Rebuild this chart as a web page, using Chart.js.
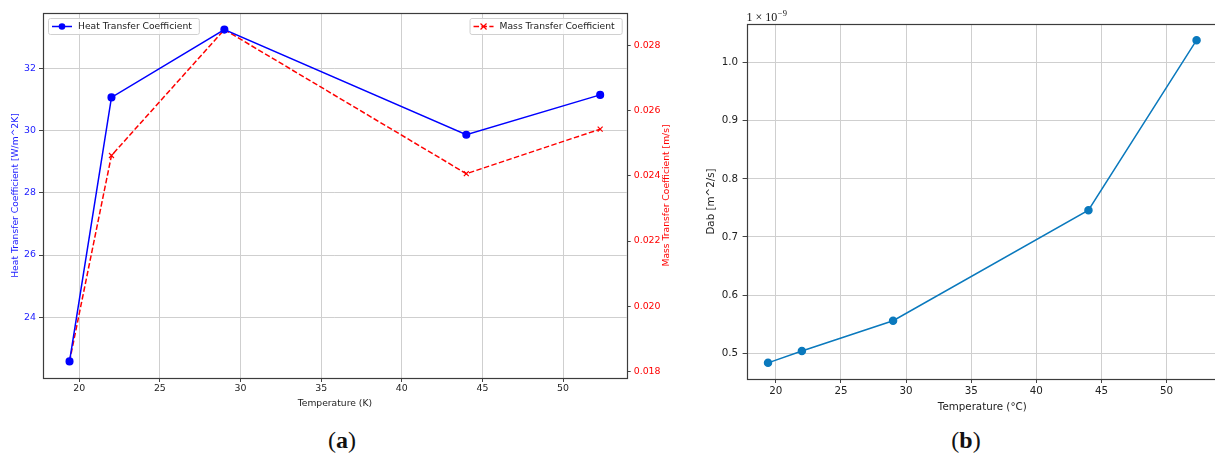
<!DOCTYPE html>
<html>
<head>
<meta charset="utf-8">
<script src="https://cdn.jsdelivr.net/npm/chart.js@4"></script>
<style>
html, body { margin: 0; padding: 0; background: #fff; width: 1215px; height: 453px; overflow: hidden; position: relative; }
.box { position: absolute; top: 0; }
.tag { position: absolute; font-family: 'Liberation Serif', serif; font-size: 24px; color: #111; transform: translate(-50%, -50%); }
</style>
</head>
<body>
<div class="box" style="left:0;width:680px;height:413px"><canvas id="chartA"></canvas></div>
<div class="box" style="left:680px;width:550px;height:420px"><canvas id="chartB"></canvas></div>
<div class="tag" style="left:342px;top:440px">(<b>a</b>)</div>
<div class="tag" style="left:966px;top:440px">(<b>b</b>)</div>
<script>
// 数据
const temps = [19.4, 22, 29, 44, 52.3];
const heatCoef = [22.58, 31.07, 33.25, 29.87, 31.15];
const massCoef = [0.0183, 0.02463, 0.0285, 0.02407, 0.02544];
const dab = [0.4835, 0.504, 0.556, 0.746, 1.0385]; // ×1e-9 m^2/s

const xTicks = [20, 25, 30, 35, 40, 45, 50];
const heatTicks = [24, 26, 28, 30, 32];
const massTicks = [0.018, 0.020, 0.022, 0.024, 0.026, 0.028];
const dabTicks = [0.5, 0.6, 0.7, 0.8, 0.9, 1.0];

const FONT = "'DejaVu Sans', sans-serif";
const GRID = '#cfcfcf';
const TICK = '#444';

// matplotlib 默认 5% 边距
function lim(arr) {
    const lo = Math.min(...arr), hi = Math.max(...arr);
    const pad = (hi - lo) * 0.05;
    return { min: lo - pad, max: hi + pad };
}

function pts(xs, ys) {
    return xs.map((x, i) => ({ x: x, y: ys[i] }));
}

function fixTicks(list) {
    return s => { s.ticks = list.map(v => ({ value: v })); };
}

const framePlugin = {
    id: 'frame',
    afterDatasetsDraw(chart) {
        const { ctx, chartArea: a } = chart;
        ctx.save();
        ctx.strokeStyle = '#3c3c3c';
        ctx.lineWidth = 1.2;
        ctx.strokeRect(Math.round(a.left) + 0.5, Math.round(a.top) + 0.5,
            Math.round(a.right - a.left), Math.round(a.bottom - a.top));
        ctx.restore();
    }
};

// 两个图例 + 右侧轴标题
const legendPlugin = {
    id: 'twoLegends',
    afterDraw(chart) {
        const { ctx, chartArea: a } = chart;
        const fs = 9.2;
        ctx.save();
        ctx.font = fs + 'px ' + FONT;
        ctx.textBaseline = 'middle';

        function drawOne(ds, boxLeft, boxTop) {
            const tw = ctx.measureText(ds.label).width;
            const w = tw + 37, h = 16;
            ctx.fillStyle = 'rgba(255,255,255,0.85)';
            ctx.strokeStyle = '#d0d0d0';
            ctx.lineWidth = 1;
            ctx.beginPath();
            ctx.roundRect(boxLeft + 0.5, boxTop + 0.5, w, h, 2);
            ctx.fill();
            ctx.stroke();
            const cy = boxTop + h / 2 + 0.5;
            const x0 = boxLeft + 4, x1 = boxLeft + 24;
            ctx.strokeStyle = ds.borderColor;
            ctx.lineWidth = 1.5;
            ctx.setLineDash(ds.borderDash || []);
            ctx.beginPath();
            ctx.moveTo(x0, cy);
            ctx.lineTo(x1, cy);
            ctx.stroke();
            ctx.setLineDash([]);
            const mx = (x0 + x1) / 2;
            if (ds.pointStyle === 'crossRot') {
                ctx.lineWidth = 1.2;
                ctx.beginPath();
                ctx.moveTo(mx - 3, cy - 3); ctx.lineTo(mx + 3, cy + 3);
                ctx.moveTo(mx - 3, cy + 3); ctx.lineTo(mx + 3, cy - 3);
                ctx.stroke();
            } else {
                ctx.fillStyle = ds.borderColor;
                ctx.beginPath();
                ctx.arc(mx, cy, 3.3, 0, Math.PI * 2);
                ctx.fill();
            }
            ctx.fillStyle = '#222';
            ctx.textAlign = 'left';
            ctx.fillText(ds.label, boxLeft + 30, cy);
            return w;
        }

        const d = chart.data.datasets;
        drawOne(d[0], a.left + 5, a.top + 5);
        const tw2 = ctx.measureText(d[1].label).width;
        drawOne(d[1], a.right - 5 - (tw2 + 37), a.top + 5);

        // 右轴标题（自下而上）
        const s = chart.scales.y2;
        ctx.translate(s.right - 13, (a.top + a.bottom) / 2);
        ctx.rotate(-Math.PI / 2);
        ctx.fillStyle = '#ff0000';
        ctx.textAlign = 'center';
        ctx.fillText('Mass Transfer Coefficient [m/s]', 0, 0);
        ctx.restore();
    }
};

const xLim = lim(temps);
const heatLim = lim(heatCoef);
const massLim = lim(massCoef);
const dabLim = lim(dab);

new Chart(document.getElementById('chartA'), {
    type: 'line',
    data: {
        datasets: [{
            label: 'Heat Transfer Coefficient',
            data: pts(temps, heatCoef),
            borderColor: '#0000ff',
            backgroundColor: '#0000ff',
            borderWidth: 1.5,
            pointRadius: 3.3,
            pointStyle: 'circle',
            yAxisID: 'y'
        }, {
            label: 'Mass Transfer Coefficient',
            data: pts(temps, massCoef),
            borderColor: '#ff0000',
            backgroundColor: '#ff0000',
            borderWidth: 1.5,
            borderDash: [5.5, 2.4],
            pointRadius: 3.5,
            pointBorderWidth: 1.2,
            pointStyle: 'crossRot',
            yAxisID: 'y2'
        }]
    },
    options: {
        responsive: true,
        maintainAspectRatio: false,
        animation: false,
        layout: { padding: { top: 13, left: 0, right: 0, bottom: 0 } },
        plugins: { legend: { display: false }, tooltip: { enabled: false } },
        scales: {
            x: {
                type: 'linear',
                min: xLim.min, max: xLim.max,
                afterBuildTicks: fixTicks(xTicks),
                afterFit: s => { s.height = 35; },
                grid: { color: GRID, tickColor: TICK, tickLength: 4 },
                border: { display: false },
                ticks: { color: '#222', font: { family: FONT, size: 9.4 }, padding: 1, maxRotation: 0 },
                title: { display: true, text: 'Temperature (K)', color: '#222', font: { family: FONT, size: 9.2 }, padding: { top: 0, bottom: 4 } }
            },
            y: {
                type: 'linear',
                position: 'left',
                min: heatLim.min, max: heatLim.max,
                afterBuildTicks: fixTicks(heatTicks),
                afterFit: s => { s.width = 43; },
                grid: { color: GRID, tickColor: TICK, tickLength: 4 },
                border: { display: false },
                ticks: { color: '#2020ff', font: { family: FONT, size: 9.4 }, padding: 3 },
                title: { display: true, text: 'Heat Transfer Coefficient [W/m^2K]', color: '#2020ff', font: { family: FONT, size: 9.2 }, padding: { top: 10, bottom: 0 } }
            },
            y2: {
                type: 'linear',
                position: 'right',
                min: massLim.min, max: massLim.max,
                afterBuildTicks: fixTicks(massTicks),
                afterFit: s => { s.width = 53.3; },
                grid: { drawOnChartArea: false, color: GRID, tickColor: TICK, tickLength: 4 },
                border: { display: false },
                ticks: { color: '#ff0000', font: { family: FONT, size: 9.4 }, padding: 3, callback: v => v.toFixed(3) }
            }
        }
    },
    plugins: [framePlugin, legendPlugin]
});

// 1×10^-9 偏移文字
const offsetPlugin = {
    id: 'offsetText',
    afterDraw(chart) {
        const { ctx, chartArea: a } = chart;
        ctx.save();
        ctx.fillStyle = '#111';
        ctx.textBaseline = 'alphabetic';
        ctx.textAlign = 'left';
        ctx.font = "12px 'Liberation Serif', serif";
        const base = '1 \u00d7 10';
        ctx.fillText(base, a.left, a.top - 3);
        const w = ctx.measureText(base).width;
        ctx.font = "8.5px 'Liberation Serif', serif";
        ctx.fillText('\u22129', a.left + w + 0.5, a.top - 8.5);
        ctx.restore();
    }
};

new Chart(document.getElementById('chartB'), {
    type: 'line',
    data: {
        datasets: [{
            label: 'Dab',
            data: pts(temps, dab),
            borderColor: '#0a79bd',
            backgroundColor: '#0a79bd',
            borderWidth: 1.5,
            pointRadius: 3.5,
            pointStyle: 'circle'
        }]
    },
    options: {
        responsive: true,
        maintainAspectRatio: false,
        animation: false,
        layout: { padding: { top: 24, left: 0, right: 12, bottom: 0 } },
        plugins: { legend: { display: false }, tooltip: { enabled: false } },
        scales: {
            x: {
                type: 'linear',
                min: xLim.min, max: xLim.max,
                afterBuildTicks: fixTicks(xTicks),
                afterFit: s => { s.height = 41; },
                grid: { color: GRID, tickColor: TICK, tickLength: 4 },
                border: { display: false },
                ticks: { color: '#222', font: { family: FONT, size: 10.3 }, padding: 2, maxRotation: 0 },
                title: { display: true, text: 'Temperature (°C)', color: '#222', font: { family: FONT, size: 10.3 }, padding: { top: 0, bottom: 6.8 } }
            },
            y: {
                type: 'linear',
                min: dabLim.min, max: dabLim.max,
                afterBuildTicks: fixTicks(dabTicks),
                afterFit: s => { s.width = 66.6; },
                grid: { color: GRID, tickColor: TICK, tickLength: 4 },
                border: { display: false },
                ticks: { color: '#222', font: { family: FONT, size: 10.3 }, padding: 4.5, callback: v => v.toFixed(1) },
                title: { display: true, text: 'Dab [m^2/s]', color: '#222', font: { family: FONT, size: 10.3 }, padding: { top: 25.5, bottom: 0 } }
            }
        }
    },
    plugins: [framePlugin, offsetPlugin]
});
</script>
</body>
</html>
